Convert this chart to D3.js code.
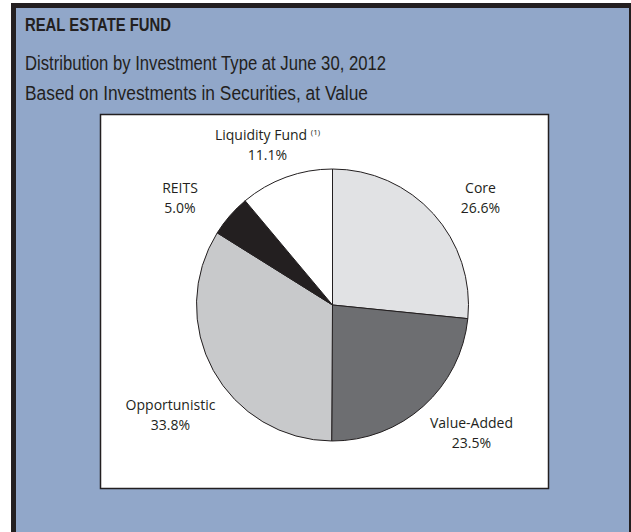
<!DOCTYPE html>
<html>
<head>
<meta charset="utf-8">
<script src="https://cdn.jsdelivr.net/npm/d3@7"></script>
<style>
  html, body { margin: 0; padding: 0; background: #ffffff; }
  svg { display: block; }
</style>
</head>
<body>
<svg id="chart" width="631" height="532"></svg>
<script>
// ---- data ----
const categories = ["Core", "Value-Added", "Opportunistic", "REITS", "Liquidity Fund"];
const values = [26.6, 23.5, 33.8, 5.0, 11.1];
const valueLabels = ["26.6%", "23.5%", "33.8%", "5.0%", "11.1%"];
const footnotes = ["", "", "", "", "(1)"];
const sliceColors = ["#e1e2e4", "#6d6e71", "#c8c9cb", "#231f20", "#ffffff"];
const titleLines = ["REAL ESTATE FUND", "Distribution by Investment Type at June 30, 2012", "Based on Investments in Securities, at Value"];

// ---- layout ----
const svg = d3.select("#chart");
const cx = 332.5, cy = 305, R = 136;

// outer panel
svg.append("rect")
  .attr("x", 13.5).attr("y", 5.5)
  .attr("width", 618).attr("height", 600)
  .attr("fill", "#91a7c9")
  .attr("stroke", "#231f20").attr("stroke-width", 5);

// titles (condensed sans, like Helvetica Narrow)
const titleFont = "Liberation Sans, Arial, sans-serif";
svg.append("text")
  .attr("x", 25).attr("y", 31)
  .attr("font-family", titleFont)
  .attr("font-weight", "bold").attr("font-size", 18)
  .attr("textLength", 146).attr("lengthAdjust", "spacingAndGlyphs")
  .attr("fill", "#231f20")
  .text(titleLines[0]);
svg.append("text")
  .attr("x", 25).attr("y", 70)
  .attr("font-family", titleFont)
  .attr("font-size", 20)
  .attr("textLength", 361).attr("lengthAdjust", "spacingAndGlyphs")
  .attr("fill", "#231f20")
  .text(titleLines[1]);
svg.append("text")
  .attr("x", 25).attr("y", 100)
  .attr("font-family", titleFont)
  .attr("font-size", 20)
  .attr("textLength", 343).attr("lengthAdjust", "spacingAndGlyphs")
  .attr("fill", "#231f20")
  .text(titleLines[2]);

// white box
svg.append("rect")
  .attr("x", 100.5).attr("y", 114.5)
  .attr("width", 448).attr("height", 374)
  .attr("fill", "#ffffff")
  .attr("stroke", "#231f20").attr("stroke-width", 1.5);

// pie
const pie = d3.pie().sort(null).value(d => d)(values);
const arc = d3.arc().innerRadius(0).outerRadius(R);
const g = svg.append("g").attr("transform", `translate(${cx},${cy})`);
g.selectAll("path.slice")
  .data(pie)
  .join("path")
  .attr("class", "slice")
  .attr("d", arc)
  .attr("fill", (d, i) => sliceColors[i])
  .attr("stroke", "#231f20")
  .attr("stroke-width", 1);

// labels
const labelPos = [
  [480.5, 193],
  [471.5, 428],
  [170.5, 410],
  [180, 193],
  [267.5, 140]
];
const labelFont = "Open Sans, Noto Sans, sans-serif";
const labels = svg.append("g");
pie.forEach((d, i) => {
  const [lx, ly] = labelPos[i];
  const t = labels.append("text")
    .attr("x", lx).attr("y", ly)
    .attr("text-anchor", "middle")
    .attr("font-family", labelFont)
    .attr("font-size", 14)
    .attr("fill", "#231f20");
  t.append("tspan").text(categories[i]);
  if (footnotes[i]) {
    t.append("tspan").text(" ");
    t.append("tspan").text(footnotes[i]).attr("font-size", 8).attr("dy", -5);
  }
  labels.append("text")
    .attr("x", lx).attr("y", ly + 20)
    .attr("text-anchor", "middle")
    .attr("font-family", labelFont)
    .attr("font-size", 14)
    .attr("fill", "#231f20")
    .text(valueLabels[i]);
});
</script>
</body>
</html>
